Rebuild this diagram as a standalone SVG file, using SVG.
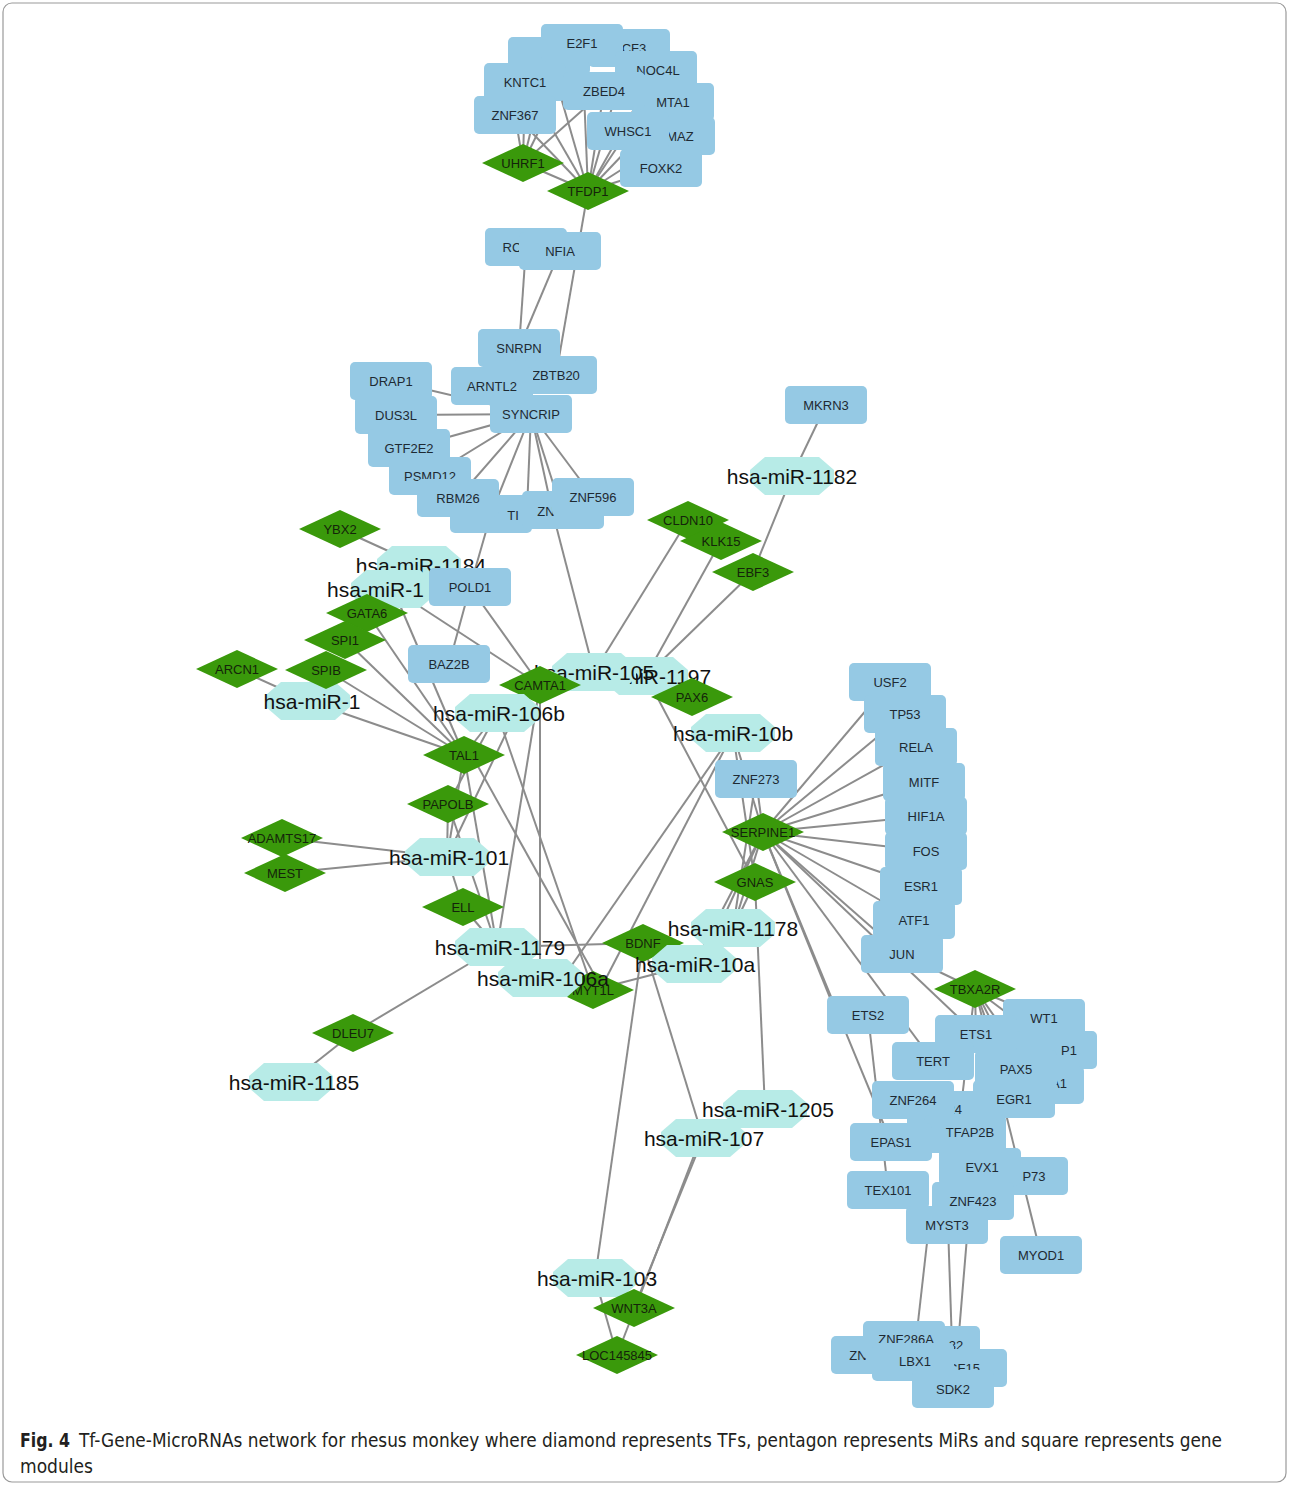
<svg xmlns="http://www.w3.org/2000/svg" xmlns:xlink="http://www.w3.org/1999/xlink" width="1289" height="1485" viewBox="0 0 1289 1485">
<style>
.e line{stroke:#8c8c8c;stroke-width:2;fill:none}
.g{fill:#95c9e4}
.t{fill:#3a990b}
.m{fill:#b7ebe7}
.lg{font-family:"Liberation Sans",Arial,sans-serif;font-size:13px;fill:#1e2a33;text-anchor:middle}
.lt{font-family:"Liberation Sans",Arial,sans-serif;font-size:13px;fill:#14240a;text-anchor:middle}
.lm{font-family:"Liberation Sans",Arial,sans-serif;font-size:21px;fill:#111;text-anchor:middle}
.cap{font-family:"Liberation Sans Narrow","DejaVu Sans Condensed","Roboto Condensed",sans-serif;font-size:19px;fill:#231f20}
</style>
<defs>
<rect id="R" x="-41" y="-19" width="82" height="38" rx="5"/>
<polygon id="D" points="0,-19 41,0 0,19 -41,0"/>
<polygon id="H" points="-27,-19 27,-19 42,-6 42,6 27,19 -27,19 -42,6 -42,-6"/>
</defs>
<rect x="0" y="0" width="1289" height="1485" fill="#fff"/>
<rect x="3" y="3" width="1283" height="1479" rx="9" fill="none" stroke="#9a9a9a" stroke-width="1.2"/>
<g id="connectors" class="e">
<line x1="523" y1="163" x2="525" y2="82"/>
<line x1="523" y1="163" x2="515" y2="115"/>
<line x1="523" y1="163" x2="549" y2="56"/>
<line x1="523" y1="163" x2="582" y2="43"/>
<line x1="523" y1="163" x2="604" y2="91"/>
<line x1="523" y1="163" x2="588" y2="191"/>
<line x1="588" y1="191" x2="525" y2="82"/>
<line x1="588" y1="191" x2="515" y2="115"/>
<line x1="588" y1="191" x2="582" y2="43"/>
<line x1="588" y1="191" x2="629" y2="48"/>
<line x1="588" y1="191" x2="656" y2="70"/>
<line x1="588" y1="191" x2="604" y2="91"/>
<line x1="588" y1="191" x2="673" y2="102"/>
<line x1="588" y1="191" x2="628" y2="131"/>
<line x1="588" y1="191" x2="674" y2="136"/>
<line x1="588" y1="191" x2="661" y2="168"/>
<line x1="588" y1="191" x2="549" y2="56"/>
<line x1="588" y1="191" x2="556" y2="375"/>
<line x1="526" y1="247" x2="519" y2="348"/>
<line x1="560" y1="251" x2="519" y2="348"/>
<line x1="531" y1="414" x2="519" y2="348"/>
<line x1="531" y1="414" x2="391" y2="381"/>
<line x1="531" y1="414" x2="396" y2="415"/>
<line x1="531" y1="414" x2="409" y2="448"/>
<line x1="531" y1="414" x2="430" y2="476"/>
<line x1="531" y1="414" x2="458" y2="498"/>
<line x1="531" y1="414" x2="491" y2="514"/>
<line x1="531" y1="414" x2="527" y2="510"/>
<line x1="531" y1="414" x2="552" y2="510"/>
<line x1="531" y1="414" x2="560" y2="505"/>
<line x1="531" y1="414" x2="593" y2="497"/>
<line x1="491" y1="514" x2="470" y2="587"/>
<line x1="552" y1="510" x2="594" y2="672"/>
<line x1="340" y1="529" x2="419" y2="565"/>
<line x1="393" y1="589" x2="540" y2="685"/>
<line x1="470" y1="587" x2="540" y2="685"/>
<line x1="470" y1="587" x2="449" y2="664"/>
<line x1="367" y1="613" x2="464" y2="755"/>
<line x1="345" y1="640" x2="464" y2="755"/>
<line x1="326" y1="670" x2="464" y2="755"/>
<line x1="308" y1="701" x2="464" y2="755"/>
<line x1="393" y1="589" x2="464" y2="755"/>
<line x1="237" y1="669" x2="308" y2="701"/>
<line x1="497" y1="713" x2="464" y2="755"/>
<line x1="497" y1="713" x2="448" y2="804"/>
<line x1="497" y1="713" x2="593" y2="990"/>
<line x1="510" y1="725" x2="447" y2="857"/>
<line x1="540" y1="685" x2="540" y2="978"/>
<line x1="540" y1="685" x2="497" y2="947"/>
<line x1="464" y1="755" x2="447" y2="857"/>
<line x1="464" y1="755" x2="497" y2="947"/>
<line x1="470" y1="752" x2="600" y2="985"/>
<line x1="448" y1="804" x2="447" y2="857"/>
<line x1="448" y1="804" x2="497" y2="947"/>
<line x1="463" y1="907" x2="447" y2="857"/>
<line x1="463" y1="907" x2="497" y2="947"/>
<line x1="282" y1="838" x2="447" y2="857"/>
<line x1="285" y1="873" x2="447" y2="857"/>
<line x1="353" y1="1033" x2="497" y2="947"/>
<line x1="353" y1="1033" x2="291" y2="1082"/>
<line x1="497" y1="947" x2="643" y2="943"/>
<line x1="826" y1="405" x2="792" y2="476"/>
<line x1="792" y1="476" x2="753" y2="572"/>
<line x1="753" y1="572" x2="646" y2="676"/>
<line x1="721" y1="541" x2="646" y2="676"/>
<line x1="688" y1="520" x2="594" y2="672"/>
<line x1="646" y1="676" x2="755" y2="882"/>
<line x1="733" y1="733" x2="565" y2="975"/>
<line x1="733" y1="733" x2="600" y2="990"/>
<line x1="733" y1="733" x2="763" y2="832"/>
<line x1="733" y1="733" x2="755" y2="882"/>
<line x1="756" y1="779" x2="763" y2="832"/>
<line x1="756" y1="779" x2="733" y2="928"/>
<line x1="763" y1="832" x2="890" y2="682"/>
<line x1="763" y1="832" x2="905" y2="714"/>
<line x1="763" y1="832" x2="916" y2="747"/>
<line x1="763" y1="832" x2="924" y2="782"/>
<line x1="763" y1="832" x2="926" y2="816"/>
<line x1="763" y1="832" x2="926" y2="851"/>
<line x1="763" y1="832" x2="921" y2="886"/>
<line x1="763" y1="832" x2="914" y2="920"/>
<line x1="763" y1="832" x2="902" y2="954"/>
<line x1="763" y1="832" x2="733" y2="928"/>
<line x1="763" y1="832" x2="720" y2="925"/>
<line x1="755" y1="882" x2="733" y2="928"/>
<line x1="763" y1="832" x2="694" y2="964"/>
<line x1="755" y1="882" x2="765" y2="1109"/>
<line x1="763" y1="832" x2="835" y2="1010"/>
<line x1="763" y1="832" x2="933" y2="1061"/>
<line x1="763" y1="832" x2="976" y2="1034"/>
<line x1="763" y1="832" x2="891" y2="1142"/>
<line x1="902" y1="954" x2="975" y2="989"/>
<line x1="975" y1="989" x2="1044" y2="1018"/>
<line x1="975" y1="989" x2="976" y2="1034"/>
<line x1="975" y1="989" x2="1056" y2="1050"/>
<line x1="975" y1="989" x2="1016" y2="1069"/>
<line x1="975" y1="989" x2="1043" y2="1085"/>
<line x1="975" y1="989" x2="1014" y2="1099"/>
<line x1="975" y1="989" x2="1041" y2="1255"/>
<line x1="975" y1="989" x2="947" y2="1225"/>
<line x1="868" y1="1015" x2="888" y2="1190"/>
<line x1="929" y1="1225" x2="916" y2="1340"/>
<line x1="948" y1="1225" x2="952" y2="1345"/>
<line x1="968" y1="1225" x2="958" y2="1345"/>
<line x1="643" y1="943" x2="595" y2="1278"/>
<line x1="643" y1="943" x2="703" y2="1138"/>
<line x1="703" y1="1138" x2="634" y2="1308"/>
<line x1="700" y1="1140" x2="617" y2="1355"/>
<line x1="595" y1="1278" x2="617" y2="1355"/>
<line x1="694" y1="964" x2="593" y2="990"/>
</g>
<g id="nodes">
<g id="top0" transform="translate(549,56)"><use href="#R" class="g"/></g>
<g id="CF3" transform="translate(629,48)"><use href="#R" class="g"/><text class="lg" x="5" dy="4.5">CF3</text></g>
<g id="E2F1" transform="translate(582,43)"><use href="#R" class="g"/><text class="lg" dy="4.5">E2F1</text></g>
<g id="NOC4L" transform="translate(656,70)"><use href="#R" class="g"/><text class="lg" x="2" dy="4.5">NOC4L</text></g>
<g id="KNTC1" transform="translate(525,82)"><use href="#R" class="g"/><text class="lg" dy="4.5">KNTC1</text></g>
<g id="MTA1" transform="translate(673,102)"><use href="#R" class="g"/><text class="lg" dy="4.5">MTA1</text></g>
<g id="ZBED4" transform="translate(604,91)"><use href="#R" class="g"/><text class="lg" dy="4.5">ZBED4</text></g>
<g id="ZNF367" transform="translate(515,115)"><use href="#R" class="g"/><text class="lg" dy="4.5">ZNF367</text></g>
<g id="MAZ" transform="translate(674,136)"><use href="#R" class="g"/><text class="lg" x="6" dy="4.5">MAZ</text></g>
<g id="WHSC1" transform="translate(628,131)"><use href="#R" class="g"/><text class="lg" dy="4.5">WHSC1</text></g>
<g id="FOXK2" transform="translate(661,168)"><use href="#R" class="g"/><text class="lg" dy="4.5">FOXK2</text></g>
<g id="UHRF1" transform="translate(523,163)"><use href="#D" class="t"/><text class="lt" dy="4.5">UHRF1</text></g>
<g id="TFDP1" transform="translate(588,191)"><use href="#D" class="t"/><text class="lt" dy="4.5">TFDP1</text></g>
<g id="RC" transform="translate(526,247)"><use href="#R" class="g"/><text class="lg" x="-14" dy="4.5">RC</text></g>
<g id="NFIA" transform="translate(560,251)"><use href="#R" class="g"/><text class="lg" dy="4.5">NFIA</text></g>
<g id="SNRPN" transform="translate(519,348)"><use href="#R" class="g"/><text class="lg" dy="4.5">SNRPN</text></g>
<g id="ZBTB20" transform="translate(556,375)"><use href="#R" class="g"/><text class="lg" dy="4.5">ZBTB20</text></g>
<g id="ARNTL2" transform="translate(492,386)"><use href="#R" class="g"/><text class="lg" dy="4.5">ARNTL2</text></g>
<g id="SYNCRIP" transform="translate(531,414)"><use href="#R" class="g"/><text class="lg" dy="4.5">SYNCRIP</text></g>
<g id="DRAP1" transform="translate(391,381)"><use href="#R" class="g"/><text class="lg" dy="4.5">DRAP1</text></g>
<g id="DUS3L" transform="translate(396,415)"><use href="#R" class="g"/><text class="lg" dy="4.5">DUS3L</text></g>
<g id="GTF2E2" transform="translate(409,448)"><use href="#R" class="g"/><text class="lg" dy="4.5">GTF2E2</text></g>
<g id="PSMD12" transform="translate(430,476)"><use href="#R" class="g"/><text class="lg" dy="4.5">PSMD12</text></g>
<g id="TI" transform="translate(491,514)"><use href="#R" class="g"/><text class="lg" x="22" dy="6">TI</text></g>
<g id="ZN" transform="translate(563,510)"><use href="#R" class="g"/><text class="lg" x="-17" dy="6">ZN</text></g>
<g id="RBM26" transform="translate(458,498)"><use href="#R" class="g"/><text class="lg" dy="4.5">RBM26</text></g>
<g id="ZNF596" transform="translate(593,497)"><use href="#R" class="g"/><text class="lg" dy="4.5">ZNF596</text></g>
<g id="MKRN3" transform="translate(826,405)"><use href="#R" class="g"/><text class="lg" dy="4.5">MKRN3</text></g>
<g id="miR-1182" transform="translate(792,476)"><use href="#H" class="m"/><text class="lm" dy="7.5">hsa-miR-1182</text></g>
<g id="CLDN10" transform="translate(688,520)"><use href="#D" class="t"/><text class="lt" dy="4.5">CLDN10</text></g>
<g id="KLK15" transform="translate(721,541)"><use href="#D" class="t"/><text class="lt" dy="4.5">KLK15</text></g>
<g id="EBF3" transform="translate(753,572)"><use href="#D" class="t"/><text class="lt" dy="4.5">EBF3</text></g>
<g id="YBX2" transform="translate(340,529)"><use href="#D" class="t"/><text class="lt" dy="4.5">YBX2</text></g>
<g id="miR-1184" transform="translate(419,565)"><use href="#H" class="m"/><text class="lm" x="2" dy="7.5">hsa-miR-1184</text></g>
<g id="miR-1x" transform="translate(393,589)"><use href="#H" class="m"/><text class="lm" x="-66" dy="7.5" style="text-anchor:start">hsa-miR-1</text></g>
<g id="POLD1" transform="translate(470,587)"><use href="#R" class="g"/><text class="lg" dy="4.5">POLD1</text></g>
<g id="GATA6" transform="translate(367,613)"><use href="#D" class="t"/><text class="lt" dy="4.5">GATA6</text></g>
<g id="SPI1" transform="translate(345,640)"><use href="#D" class="t"/><text class="lt" dy="4.5">SPI1</text></g>
<g id="miR-1" transform="translate(308,701)"><use href="#H" class="m"/><text class="lm" x="4" dy="7.5">hsa-miR-1</text></g>
<g id="SPIB" transform="translate(326,670)"><use href="#D" class="t"/><text class="lt" dy="4.5">SPIB</text></g>
<g id="ARCN1" transform="translate(237,669)"><use href="#D" class="t"/><text class="lt" dy="4.5">ARCN1</text></g>
<g id="BAZ2B" transform="translate(449,664)"><use href="#R" class="g"/><text class="lg" dy="4.5">BAZ2B</text></g>
<g id="miR-1197" transform="translate(646,676)"><use href="#H" class="m"/><text class="lm" dy="7.5">hsa-miR-1197</text></g>
<g id="miR-105" transform="translate(594,672)"><use href="#H" class="m"/><text class="lm" dy="7.5">hsa-miR-105</text></g>
<g id="CAMTA1" transform="translate(540,685)"><use href="#D" class="t"/><text class="lt" dy="4.5">CAMTA1</text></g>
<g id="PAX6" transform="translate(692,697)"><use href="#D" class="t"/><text class="lt" dy="4.5">PAX6</text></g>
<g id="miR-106b" transform="translate(497,713)"><use href="#H" class="m"/><text class="lm" x="2" dy="7.5">hsa-miR-106b</text></g>
<g id="miR-10b" transform="translate(733,733)"><use href="#H" class="m"/><text class="lm" dy="7.5">hsa-miR-10b</text></g>
<g id="TAL1" transform="translate(464,755)"><use href="#D" class="t"/><text class="lt" dy="4.5">TAL1</text></g>
<g id="PAPOLB" transform="translate(448,804)"><use href="#D" class="t"/><text class="lt" dy="4.5">PAPOLB</text></g>
<g id="ADAMTS17" transform="translate(282,838)"><use href="#D" class="t"/><text class="lt" dy="4.5">ADAMTS17</text></g>
<g id="MEST" transform="translate(285,873)"><use href="#D" class="t"/><text class="lt" dy="4.5">MEST</text></g>
<g id="miR-101" transform="translate(447,857)"><use href="#H" class="m"/><text class="lm" x="2" dy="7.5">hsa-miR-101</text></g>
<g id="ELL" transform="translate(463,907)"><use href="#D" class="t"/><text class="lt" dy="4.5">ELL</text></g>
<g id="miR-1179" transform="translate(497,947)"><use href="#H" class="m"/><text class="lm" x="3" dy="7.5">hsa-miR-1179</text></g>
<g id="MYT1L" transform="translate(593,990)"><use href="#D" class="t"/><text class="lt" dy="4.5">MYT1L</text></g>
<g id="miR-106a" transform="translate(540,978)"><use href="#H" class="m"/><text class="lm" x="3" dy="7.5">hsa-miR-106a</text></g>
<g id="DLEU7" transform="translate(353,1033)"><use href="#D" class="t"/><text class="lt" dy="4.5">DLEU7</text></g>
<g id="miR-1185" transform="translate(291,1082)"><use href="#H" class="m"/><text class="lm" x="3" dy="7.5">hsa-miR-1185</text></g>
<g id="ZNF273" transform="translate(756,779)"><use href="#R" class="g"/><text class="lg" dy="4.5">ZNF273</text></g>
<g id="SERPINE1" transform="translate(763,832)"><use href="#D" class="t"/><text class="lt" dy="4.5">SERPINE1</text></g>
<g id="GNAS" transform="translate(755,882)"><use href="#D" class="t"/><text class="lt" dy="4.5">GNAS</text></g>
<g id="miR-1178" transform="translate(733,928)"><use href="#H" class="m"/><text class="lm" dy="7.5">hsa-miR-1178</text></g>
<g id="BDNF" transform="translate(643,943)"><use href="#D" class="t"/><text class="lt" dy="4.5">BDNF</text></g>
<g id="miR-10a" transform="translate(694,964)"><use href="#H" class="m"/><text class="lm" x="1" dy="7.5">hsa-miR-10a</text></g>
<g id="USF2" transform="translate(890,682)"><use href="#R" class="g"/><text class="lg" dy="4.5">USF2</text></g>
<g id="TP53" transform="translate(905,714)"><use href="#R" class="g"/><text class="lg" dy="4.5">TP53</text></g>
<g id="RELA" transform="translate(916,747)"><use href="#R" class="g"/><text class="lg" dy="4.5">RELA</text></g>
<g id="MITF" transform="translate(924,782)"><use href="#R" class="g"/><text class="lg" dy="4.5">MITF</text></g>
<g id="HIF1A" transform="translate(926,816)"><use href="#R" class="g"/><text class="lg" dy="4.5">HIF1A</text></g>
<g id="FOS" transform="translate(926,851)"><use href="#R" class="g"/><text class="lg" dy="4.5">FOS</text></g>
<g id="ESR1" transform="translate(921,886)"><use href="#R" class="g"/><text class="lg" dy="4.5">ESR1</text></g>
<g id="ATF1" transform="translate(914,920)"><use href="#R" class="g"/><text class="lg" dy="4.5">ATF1</text></g>
<g id="JUN" transform="translate(902,954)"><use href="#R" class="g"/><text class="lg" dy="4.5">JUN</text></g>
<g id="TBXA2R" transform="translate(975,989)"><use href="#D" class="t"/><text class="lt" dy="4.5">TBXA2R</text></g>
<g id="WT1" transform="translate(1044,1018)"><use href="#R" class="g"/><text class="lg" dy="4.5">WT1</text></g>
<g id="P1" transform="translate(1056,1050)"><use href="#R" class="g"/><text class="lg" x="21" dy="4.5" style="text-anchor:end">P1</text></g>
<g id="A1" transform="translate(1043,1085)"><use href="#R" class="g"/><text class="lg" x="24" dy="3" style="text-anchor:end">A1</text></g>
<g id="ETS1" transform="translate(976,1034)"><use href="#R" class="g"/><text class="lg" dy="4.5">ETS1</text></g>
<g id="TERT" transform="translate(933,1061)"><use href="#R" class="g"/><text class="lg" dy="4.5">TERT</text></g>
<g id="PAX5" transform="translate(1016,1069)"><use href="#R" class="g"/><text class="lg" dy="4.5">PAX5</text></g>
<g id="EGR1" transform="translate(1014,1099)"><use href="#R" class="g"/><text class="lg" dy="4.5">EGR1</text></g>
<g id="R4" transform="translate(948,1110)"><use href="#R" class="g"/><text class="lg" x="14" dy="3.5" style="text-anchor:end">R4</text></g>
<g id="ZNF264" transform="translate(913,1100)"><use href="#R" class="g"/><text class="lg" dy="4.5">ZNF264</text></g>
<g id="P73" transform="translate(1027,1176)"><use href="#R" class="g"/><text class="lg" x="7" dy="4.5">P73</text></g>
<g id="EVX1" transform="translate(980,1167)"><use href="#R" class="g"/><text class="lg" x="2" dy="4.5">EVX1</text></g>
<g id="TFAP2B" transform="translate(965,1134)"><use href="#R" class="g"/><text class="lg" x="5" dy="3">TFAP2B</text></g>
<g id="EPAS1" transform="translate(891,1142)"><use href="#R" class="g"/><text class="lg" dy="4.5">EPAS1</text></g>
<g id="ETS2" transform="translate(868,1015)"><use href="#R" class="g"/><text class="lg" dy="4.5">ETS2</text></g>
<g id="TEX101" transform="translate(888,1190)"><use href="#R" class="g"/><text class="lg" dy="4.5">TEX101</text></g>
<g id="ZNF423" transform="translate(973,1201)"><use href="#R" class="g"/><text class="lg" dy="4.5">ZNF423</text></g>
<g id="MYST3" transform="translate(947,1225)"><use href="#R" class="g"/><text class="lg" dy="4.5">MYST3</text></g>
<g id="MYOD1" transform="translate(1041,1255)"><use href="#R" class="g"/><text class="lg" dy="4.5">MYOD1</text></g>
<g id="ZN2" transform="translate(872,1355)"><use href="#R" class="g"/><text class="lg" x="-14" dy="4.5">ZN</text></g>
<g id="N32" transform="translate(939,1345)"><use href="#R" class="g"/><text class="lg" x="17" dy="4.5">32</text></g>
<g id="ZNF286A" transform="translate(904,1340)"><use href="#R" class="g"/><text class="lg" x="2" dy="4">ZNF286A</text></g>
<g id="CF15" transform="translate(966,1368)"><use href="#R" class="g"/><text class="lg" x="-2" dy="5">CF15</text></g>
<g id="LBX1" transform="translate(913,1362)"><use href="#R" class="g"/><text class="lg" x="2" dy="3.5">LBX1</text></g>
<g id="SDK2" transform="translate(953,1389)"><use href="#R" class="g"/><text class="lg" dy="4.5">SDK2</text></g>
<g id="miR-1205" transform="translate(765,1109)"><use href="#H" class="m"/><text class="lm" x="3" dy="7.5">hsa-miR-1205</text></g>
<g id="miR-107" transform="translate(703,1138)"><use href="#H" class="m"/><text class="lm" x="1" dy="7.5">hsa-miR-107</text></g>
<g id="miR-103" transform="translate(595,1278)"><use href="#H" class="m"/><text class="lm" x="2" dy="7.5">hsa-miR-103</text></g>
<g id="WNT3A" transform="translate(634,1308)"><use href="#D" class="t"/><text class="lt" dy="4.5">WNT3A</text></g>
<g id="LOC145845" transform="translate(617,1355)"><use href="#D" class="t"/><text class="lt" dy="4.5">LOC145845</text></g>
</g>
<g id="caption">
<text class="cap" x="20" y="1447" font-weight="bold" textLength="50" lengthAdjust="spacingAndGlyphs">Fig. 4</text>
<text class="cap" x="79" y="1447" textLength="1143" lengthAdjust="spacingAndGlyphs">Tf-Gene-MicroRNAs network for rhesus monkey where diamond represents TFs, pentagon represents MiRs and square represents gene</text>
<text class="cap" x="20" y="1473" textLength="73" lengthAdjust="spacingAndGlyphs">modules</text>
</g>
</svg>
